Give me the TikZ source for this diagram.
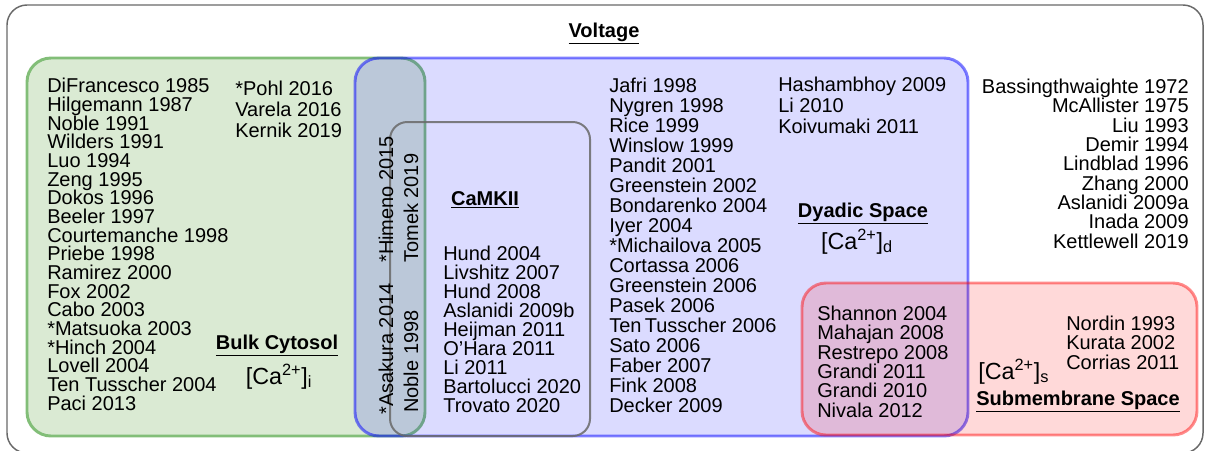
\documentclass[tikz,border=0pt]{standalone}
\usepackage{fontspec}
\setmainfont{Liberation Sans}
\usetikzlibrary{positioning}

\definecolor{bulkfill}{RGB}{218,234,211}
\definecolor{bulkline}{RGB}{130,190,120}
\definecolor{frameline}{RGB}{105,105,105}

\newcommand{\conc}[1]{[Ca\textsuperscript{2+}]\textsubscript{#1}}
\newcommand{\spacetitle}[1]{\underline{\textbf{#1}}}

\tikzset{
  space/.style={line width=2.2pt,rounded corners=18pt},
  bulkspace/.style={space,draw=bulkline,fill=bulkfill},
  dyadspace/.style={space,draw=blue,draw opacity=0.5,fill=blue,fill opacity=0.14},
  subspace/.style={space,draw=red,draw opacity=0.45,fill=red,fill opacity=0.15},
  camkspace/.style={line width=1.5pt,rounded corners=13pt,draw=frameline,draw opacity=0.85},
  % lists are placed by the baseline of their last line
  refs/.style={align=left,anchor=base west,font=\fontsize{15}{#1}\selectfont},
  rrefs/.style={align=right,anchor=base east,font=\fontsize{15}{#1}\selectfont},
  title/.style={anchor=base},
  calabel/.style={anchor=base,font=\fontsize{17.5}{18}\selectfont},
  upright/.style={anchor=base west,rotate=90}
}

\begin{document}
\begin{tikzpicture}[x=0.75pt,y=-0.75pt,
  every node/.style={inner sep=0pt,font=\fontsize{15}{15}\selectfont}]
\useasboundingbox (0,0) rectangle (1205,450);
% frame and the four spaces
\draw[frameline,line width=1.1pt,rounded corners=15pt] (7,5) rectangle (1203,453);
\draw[bulkspace] (27,58) rectangle (425,436);
\draw[dyadspace] (355,58) rectangle (968,436);
\draw[camkspace] (390,122) rectangle (590,436);
\draw[subspace] (802,283) rectangle (1197,435);

\node[title] (voltage) at (604,37) {\spacetitle{Voltage}};

% bulk cytosol
\node[refs=14] (bulkrefs) at (47,410) {DiFrancesco 1985\\Hilgemann 1987\\Noble 1991\\Wilders 1991\\Luo 1994\\Zeng 1995\\Dokos 1996\\Beeler 1997\\Courtemanche 1998\\Priebe 1998\\Ramirez 2000\\Fox 2002\\Cabo 2003\\*Matsuoka 2003\\*Hinch 2004\\Lovell 2004\\Ten Tusscher 2004\\Paci 2013};
\node[refs=15.4] (bulkrefsb) at (235,137) {*Pohl 2016\\Varela 2016\\Kernik 2019};
\node[title] (bulk) at (277,349) {\spacetitle{Bulk Cytosol}};
\node[calabel] (bulkca) at (279,384) {\conc{i}};

% shared strip
\node[upright] (asakura) at (393,415) {*Asakura 2014};
\node[upright] (himeno) at (393,263) {*Himeno 2015};
\node[upright] (noble) at (418,413) {Noble 1998};
\node[upright] (tomek) at (418,263) {Tomek 2019};

% CaMKII
\node[title] (camkii) at (485,205) {\spacetitle{CaMKII}};
\node[refs=14.25] (camkiirefs) at (443,412) {Hund 2004\\Livshitz 2007\\Hund 2008\\Aslanidi 2009b\\Heijman 2011\\O'Hara 2011\\Li 2011\\Bartolucci 2020\\Trovato 2020};

% dyadic space
\node[refs=15] (dyadrefs) at (609,412) {Jafri 1998\\Nygren 1998\\Rice 1999\\Winslow 1999\\Pandit 2001\\Greenstein 2002\\Bondarenko 2004\\Iyer 2004\\*Michailova 2005\\Cortassa 2006\\Greenstein 2006\\Pasek 2006\\Ten\,Tusscher 2006\\Sato 2006\\Faber 2007\\Fink 2008\\Decker 2009};
\node[refs=15.6] (dyadrefsb) at (778,133) {Hashambhoy 2009\\Li 2010\\Koivumaki 2011};
\node[title] (dyadic) at (863,217) {\spacetitle{Dyadic Space}};
\node[calabel] (dyadca) at (857,249) {\conc{d}};

% voltage only
\node[rrefs=14.5] (voltrefs) at (1189,248) {Bassingthwaighte 1972\\McAllister 1975\\Liu 1993\\Demir 1994\\Lindblad 1996\\Zhang 2000\\Aslanidi 2009a\\Inada 2009\\Kettlewell 2019};

% submembrane space
\node[refs=14.5] (subrefs) at (817,417) {Shannon 2004\\Mahajan 2008\\Restrepo 2008\\Grandi 2011\\Grandi 2010\\Nivala 2012};
\node[refs=14.3] (subrefsb) at (1066,369) {Nordin 1993\\Kurata 2002\\Corrias 2011};
\node[calabel,anchor=base west] (subca) at (978,379) {\conc{s}};
\node[title] (submem) at (1078,405) {\spacetitle{Submembrane Space}};
\end{tikzpicture}
\end{document}
